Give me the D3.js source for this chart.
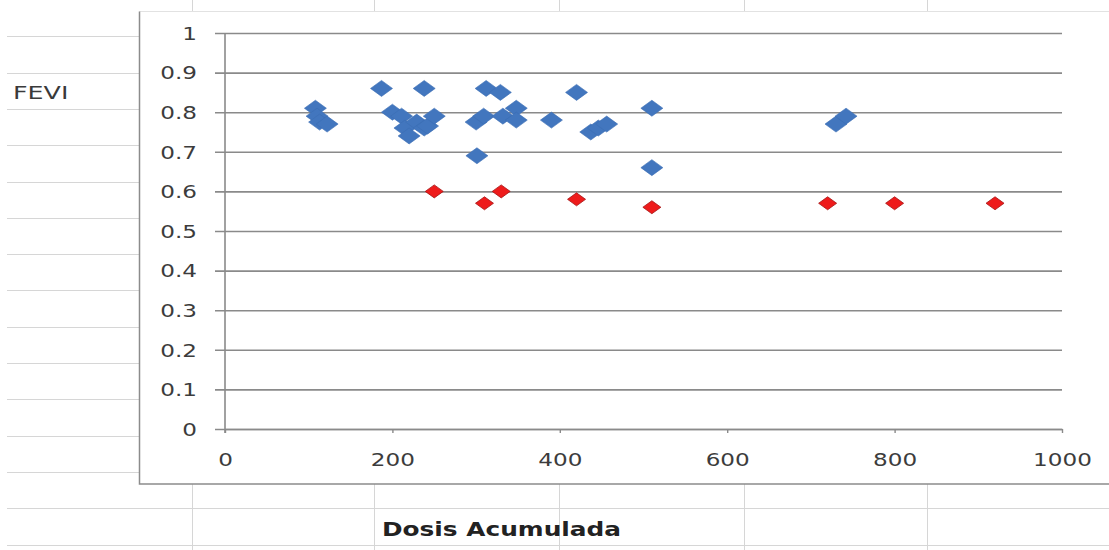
<!DOCTYPE html>
<html>
<head>
<meta charset="utf-8">
<script src="https://cdn.jsdelivr.net/npm/d3@7"></script>
<style>
  html, body { margin: 0; padding: 0; background: #ffffff; }
  svg { display: block; }
</style>
</head>
<body>
<svg id="chart" width="1109" height="550"></svg>
<script>
// FEVI vs. dosis acumulada — two series of patients
const fevIGroupA_dose = [108, 110, 113, 122, 187, 200, 211, 215, 220, 229, 238, 238, 242, 250,
                         300, 301, 309, 312, 329, 332, 348, 348, 390, 420, 437, 446, 456, 510, 510, 730, 742];
const fevIGroupA_fevi = [0.81, 0.79, 0.775, 0.77, 0.86, 0.80, 0.79, 0.76, 0.74, 0.775, 0.86, 0.76, 0.765, 0.79,
                         0.775, 0.69, 0.79, 0.86, 0.85, 0.79, 0.81, 0.78, 0.78, 0.85, 0.75, 0.76, 0.77, 0.81, 0.66, 0.77, 0.79];
const fevIGroupB_dose = [250, 310, 330, 420, 510, 720, 800, 920];
const fevIGroupB_fevi = [0.60, 0.57, 0.60, 0.58, 0.56, 0.57, 0.57, 0.57];

const xTicks = [0, 200, 400, 600, 800, 1000];
const yTicks = [0, 0.1, 0.2, 0.3, 0.4, 0.5, 0.6, 0.7, 0.8, 0.9, 1];
const yTitle = "FEVI";
const xTitle = "Dosis Acumulada";

const W = 1109, H = 550;
const svg = d3.select("#chart");
const FONT = "'DejaVu Sans', Verdana, sans-serif";
const STRETCH = 1.32;

// worksheet grid behind the chart object
const sheet = svg.append("g");
sheet.append("rect").attr("width", W).attr("height", H).attr("fill", "#ffffff");
d3.range(1, 16).forEach(k => {
  sheet.append("line")
    .attr("x1", 7).attr("x2", W)
    .attr("y1", Math.round(36.3 * k) + 0.5).attr("y2", Math.round(36.3 * k) + 0.5)
    .attr("stroke", "#d6d6d6").attr("stroke-width", 1);
});
[192, 374, 559, 744, 927].forEach(cx => {
  sheet.append("line")
    .attr("x1", cx + 0.5).attr("x2", cx + 0.5)
    .attr("y1", 0).attr("y2", H)
    .attr("stroke", "#d6d6d6").attr("stroke-width", 1);
});
sheet.append("text")
  .attr("transform", "translate(13,99) scale(1.45,1)")
  .attr("font-family", FONT).attr("font-size", 17.5)
  .attr("fill", "#3a3a3a")
  .text(yTitle);
sheet.append("text")
  .attr("x", 382).attr("y", 536)
  .attr("textLength", 239).attr("lengthAdjust", "spacingAndGlyphs")
  .attr("font-family", FONT).attr("font-size", 19).attr("font-weight", "bold")
  .attr("fill", "#222222")
  .text(xTitle);

// chart object: white panel, faint top edge, grey left and bottom edges
svg.append("rect")
  .attr("x", 139.5).attr("y", 11.5)
  .attr("width", 1000).attr("height", 472.5)
  .attr("fill", "#ffffff");
svg.append("line")
  .attr("x1", 139.5).attr("x2", W).attr("y1", 11.5).attr("y2", 11.5)
  .attr("stroke", "#e2e2e2").attr("stroke-width", 1);
svg.append("path")
  .attr("d", `M139.5,11.5V484H${W}`)
  .attr("fill", "none")
  .attr("stroke", "#8c8c8c").attr("stroke-width", 1.5);

const plot = { left: 225, right: 1062, top: 33, bottom: 429 };
const x = d3.scaleLinear().domain([0, 1000]).range([plot.left, plot.right]);
const y = d3.scaleLinear().domain([0, 1]).range([plot.bottom, plot.top]);

// value axis with horizontal gridlines
const yAxis = svg.append("g")
  .attr("transform", `translate(${plot.left},0)`)
  .call(d3.axisLeft(y).tickValues(yTicks).tickFormat(d => d3.format("")(+d.toFixed(1)))
        .tickSizeInner(-(plot.right - plot.left)).tickSizeOuter(0));
yAxis.select(".domain").remove();
yAxis.selectAll(".tick line")
  .attr("x1", -10)
  .attr("stroke", "#8a8a8a").attr("stroke-width", 1.6);
yAxis.selectAll(".tick text")
  .attr("font-family", FONT).attr("font-size", 17.5)
  .attr("fill", "#3c3c3c")
  .attr("text-anchor", "end")
  .attr("x", -28 / STRETCH).attr("dy", "0.36em")
  .attr("transform", `scale(${STRETCH},1)`);

// vertical axis line
svg.append("line")
  .attr("x1", plot.left).attr("x2", plot.left)
  .attr("y1", plot.top).attr("y2", plot.bottom + 4)
  .attr("stroke", "#8a8a8a").attr("stroke-width", 1.6);

// category axis
const xAxis = svg.append("g")
  .attr("transform", `translate(0,${plot.bottom})`)
  .call(d3.axisBottom(x).tickValues(xTicks).tickFormat(d3.format("d"))
        .tickSizeInner(4).tickSizeOuter(0));
xAxis.select(".domain").attr("stroke", "#8a8a8a").attr("stroke-width", 1.6);
xAxis.selectAll(".tick line").attr("stroke", "#8a8a8a").attr("stroke-width", 1.4);
xAxis.selectAll(".tick text")
  .attr("font-family", FONT).attr("font-size", 17.5)
  .attr("fill", "#3c3c3c")
  .attr("y", 37.5).attr("dy", 0)
  .attr("transform", `scale(${STRETCH},1)`);

// diamond markers
const diamond = (w, h) => `M0,${-h / 2}L${w / 2},0L0,${h / 2}L${-w / 2},0Z`;

svg.append("g").selectAll("path")
  .data(d3.zip(fevIGroupA_dose, fevIGroupA_fevi))
  .join("path")
  .attr("d", diamond(22, 16))
  .attr("transform", d => `translate(${x(d[0])},${y(d[1])})`)
  .attr("fill", "#4276BE")
  .attr("stroke", "#3a6db3").attr("stroke-width", 0.6);

svg.append("g").selectAll("path")
  .data(d3.zip(fevIGroupB_dose, fevIGroupB_fevi))
  .join("path")
  .attr("d", diamond(18, 13))
  .attr("transform", d => `translate(${x(d[0])},${y(d[1])})`)
  .attr("fill", "#ee1b1b")
  .attr("stroke", "#a51414").attr("stroke-width", 0.8);
</script>
</body>
</html>
